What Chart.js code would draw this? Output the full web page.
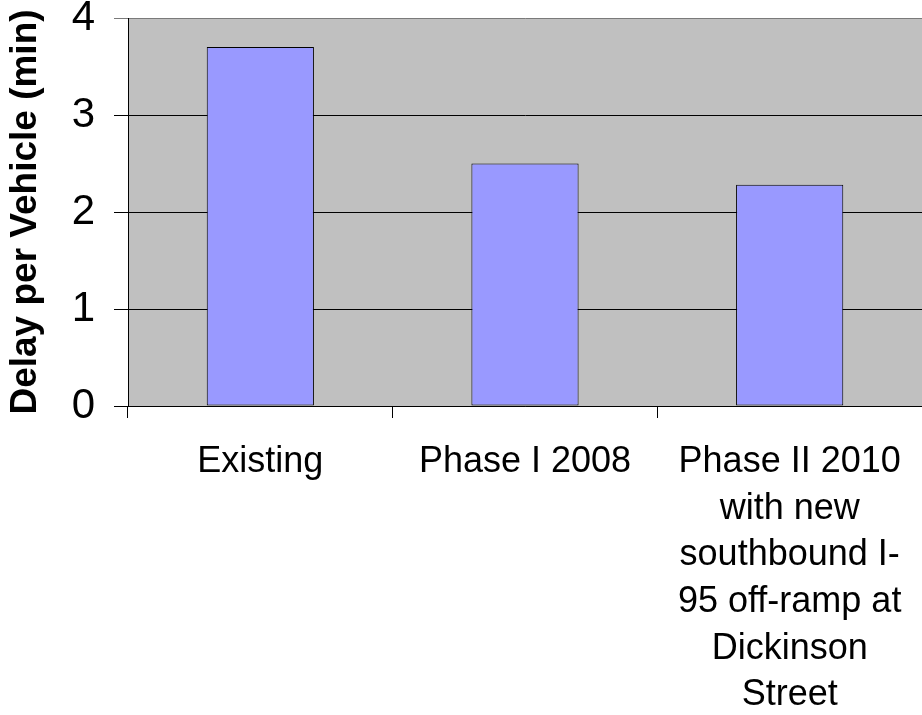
<!DOCTYPE html>
<html>
<head>
<meta charset="utf-8">
<title>Delay per Vehicle</title>
<script src="https://cdn.jsdelivr.net/npm/chart.js@4/dist/chart.umd.min.js"></script>
<style>
  html, body { margin: 0; padding: 0; background: #ffffff; }
  #wrap { width: 922px; height: 715px; }
</style>
</head>
<body>
<div id="wrap"><canvas id="chart" width="922" height="715"></canvas></div>
<script>
// Scenario names (multi-line labels are given as arrays of lines)
const categories = [
  'Existing',
  'Phase I 2008',
  ['Phase II 2010', 'with new', 'southbound I-', '95 off-ramp at', 'Dickinson', 'Street']
];
// Average delay per vehicle, minutes
const delayMinutes = [3.7, 2.5, 2.28];
// Value axis
const yMin = 0;
const yMax = 4;
const yStep = 1;
const yTitle = 'Delay per Vehicle (min)';

const FONT = '"Liberation Sans", Arial, Helvetica, sans-serif';

// Grey plot-area fill behind the bars
const plotBackground = {
  id: 'plotBackground',
  beforeDraw(chart) {
    const { ctx, chartArea: a } = chart;
    ctx.save();
    ctx.fillStyle = '#C0C0C0';
    ctx.fillRect(a.left, a.top, a.right - a.left, a.bottom - a.top);
    ctx.restore();
  }
};

new Chart(document.getElementById('chart'), {
  type: 'bar',
  data: {
    labels: categories,
    datasets: [{
      data: delayMinutes,
      backgroundColor: '#9999FF',
      borderColor: '#000000',
      borderWidth: 1,
      borderSkipped: false,
      categoryPercentage: 1.0,
      barPercentage: 0.405
    }]
  },
  options: {
    responsive: false,
    animation: false,
    devicePixelRatio: 1,
    layout: { padding: { top: 18, left: 0, right: 0, bottom: 0 } },
    plugins: {
      legend: { display: false },
      tooltip: { enabled: false }
    },
    scales: {
      x: {
        grid: {
          offset: true,
          drawOnChartArea: false,
          drawTicks: true,
          tickLength: 12,
          color: '#000000',
          lineWidth: 1
        },
        border: { display: true, color: '#000000', width: 1 },
        ticks: {
          color: '#000000',
          padding: 21,
          maxRotation: 0,
          autoSkip: false,
          font: { family: FONT, size: 36, lineHeight: 1.295 }
        },
        afterFit(scale) {
          scale.height = 309;
          scale.paddingLeft = 0;
          scale.paddingRight = 0;
        }
      },
      y: {
        min: yMin,
        max: yMax,
        grid: {
          drawOnChartArea: true,
          drawTicks: true,
          tickLength: 14,
          color: (ctx) => (ctx.tick && ctx.tick.value === yMax ? '#7a7a7a' : '#000000'),
          lineWidth: 1
        },
        border: { display: true, color: '#000000', width: 1 },
        ticks: {
          stepSize: yStep,
          color: '#000000',
          padding: 19,
          font: { family: FONT, size: 42 }
        },
        title: {
          display: true,
          text: yTitle,
          color: '#000000',
          padding: { top: 4, bottom: 0 },
          font: { family: FONT, size: 37, weight: 'bold', lineHeight: 1.2 }
        },
        afterFit(scale) {
          scale.width = 128;
          scale.paddingTop = 0;
          scale.paddingBottom = 0;
        }
      }
    }
  },
  plugins: [plotBackground]
});
</script>
</body>
</html>
